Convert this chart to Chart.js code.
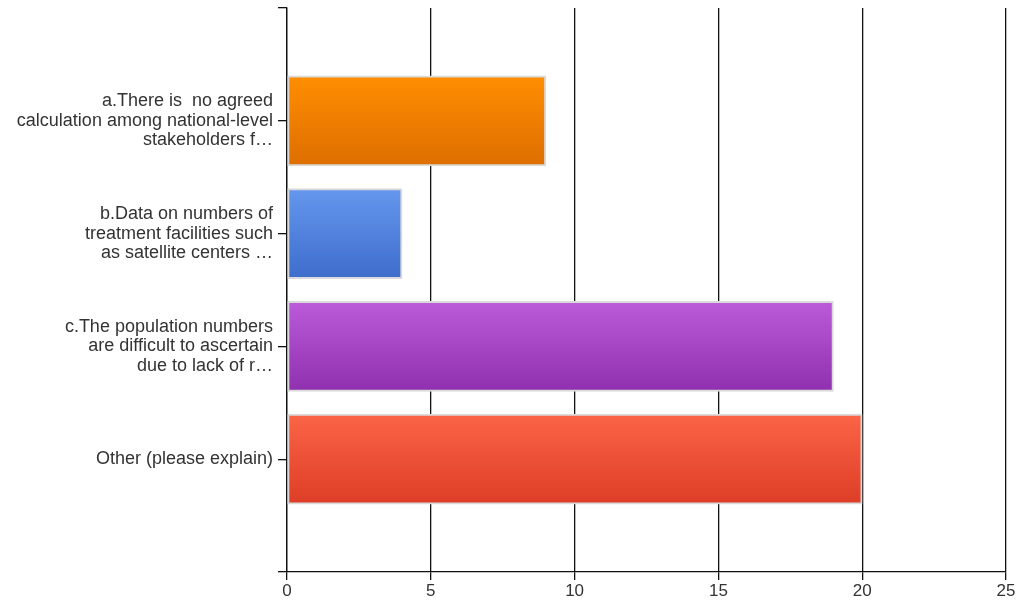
<!DOCTYPE html>
<html>
<head>
<meta charset="utf-8">
<script src="https://cdn.jsdelivr.net/npm/chart.js@4"></script>
<style>
  html, body { margin: 0; padding: 0; background: #fff; }
  #wrap { width: 1018px; height: 606px; }
</style>
</head>
<body>
<div id="wrap"><canvas id="grafico"></canvas></div>
<script>
// Respostas
const respostas = [
  ["a.There is  no agreed", "calculation among national-level", "stakeholders f\u2026"],
  ["b.Data on numbers of", "treatment facilities such", "as satellite centers \u2026"],
  ["c.The population numbers", "are difficult to ascertain", "due to lack of r\u2026"],
  "Other (please explain)"
];
const contagem = [9, 4, 19, 20];
const ticksX = [0, 5, 10, 15, 20, 25];

// cor de cima / cor de baixo de cada barra
const coresTopo = ["#ff8e00", "#6597ee", "#bb5bda", "#fb6447"];
const coresBase = ["#de6e00", "#3e6dcc", "#8f30ae", "#dd3d26"];

// linha vazia em cima e embaixo, como no original
const rotulos = [""].concat(respostas, [""]);
const valores = [null].concat(contagem, [null]);

function gradiente(ctx) {
  const i = ctx.dataIndex - 1;
  const chart = ctx.chart;
  const y = chart.scales.y;
  if (!y || i < 0 || i >= contagem.length) return coresTopo[0];
  const c = y.getPixelForValue(ctx.dataIndex);
  const g = chart.ctx.createLinearGradient(0, c - 45, 0, c + 45);
  g.addColorStop(0, coresTopo[i]);
  g.addColorStop(1, coresBase[i]);
  return g;
}

const fonte = { family: "'Liberation Sans', Arial, sans-serif", size: 18, lineHeight: 1.08 };

new Chart(document.getElementById("grafico"), {
  type: "bar",
  data: {
    labels: rotulos,
    datasets: [{
      data: valores,
      backgroundColor: gradiente,
      borderColor: "#dadada",
      borderWidth: 2,
      borderSkipped: false,
      barThickness: 90
    }]
  },
  options: {
    indexAxis: "y",
    responsive: true,
    maintainAspectRatio: false,
    animation: false,
    layout: { padding: { top: 8, right: 12, left: 0, bottom: 0 } },
    plugins: { legend: { display: false }, tooltip: { enabled: false } },
    scales: {
      x: {
        min: 0,
        max: 25,
        afterBuildTicks: s => { s.ticks = ticksX.map(v => ({ value: v })); },
        afterFit: s => { s.height = 34; },
        ticks: { color: "#333", font: { family: fonte.family, size: 17 }, padding: 1 },
        grid: { color: "#111", lineWidth: 1.3, tickLength: 8 },
        border: { color: "#111", width: 1.3 }
      },
      y: {
        offset: false,
        afterFit: s => { s.width = 287; s.paddingTop = 0; s.paddingBottom = 0; },
        ticks: { color: "#333", font: fonte, padding: 5, autoSkip: false },
        grid: { offset: false, drawOnChartArea: false, color: "#111", lineWidth: 1.3, tickLength: 9 },
        border: { color: "#111", width: 1.3 }
      }
    }
  }
});
</script>
</body>
</html>
